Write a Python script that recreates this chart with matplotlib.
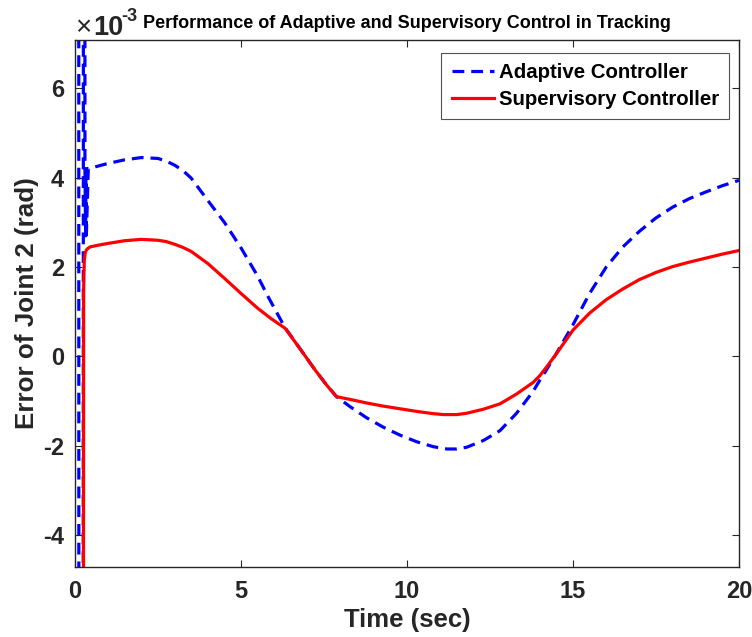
import matplotlib
matplotlib.use("Agg")
import matplotlib.pyplot as plt
from matplotlib.ticker import FuncFormatter
from matplotlib.font_manager import FontProperties
from matplotlib.transforms import offset_copy
import numpy as np

# Tracking error of joint 2 (values in units of 1e-3 rad)
time_adaptive = [0.0, 0.11, 0.12, 0.24, 0.26, 0.29, 0.30, 0.32, 0.33, 0.34, 0.40, 0.5, 0.75,
                 1.0, 1.5, 2.0, 2.5, 2.75, 3.0, 3.25, 3.5, 4.0, 4.5, 5.0, 5.5, 5.8, 6.1,
                 6.33, 6.8, 7.23, 7.6, 7.88, 8.28, 8.78, 9.28, 9.79, 10.3, 10.8, 11.2,
                 11.5, 11.8, 12.3, 12.8, 13.3, 13.8, 14.0, 14.2, 14.5, 15.0, 15.5, 16.0,
                 16.5, 17.0, 17.5, 18.0, 18.5, 19.0, 19.5, 20.0]
err_adaptive = [30.0, 30.0, -30.0, -30.0, 30.0, 30.0, 4.22, 2.70, 4.20, 2.65, 4.21, 4.22, 4.27,
                4.32, 4.40, 4.45, 4.43, 4.37, 4.28, 4.16, 3.99, 3.49, 3.00, 2.43, 1.80, 1.36,
                0.95, 0.64, 0.15, -0.30, -0.66, -0.90, -1.12, -1.37, -1.58, -1.76, -1.91,
                -2.02, -2.07, -2.07, -2.03, -1.88, -1.66, -1.27, -0.78, -0.53, -0.30, 0.07,
                0.71, 1.41, 2.00, 2.45, 2.80, 3.10, 3.34, 3.53, 3.68, 3.82, 3.94]

time_supervisory = [0.0, 0.24, 0.26, 0.28, 0.31, 0.36, 0.45, 0.7, 1.0, 1.5, 2.0, 2.5, 2.75,
                    3.0, 3.25, 3.5, 4.0, 4.5, 5.0, 5.5, 5.9, 6.33, 6.8, 7.23, 7.6, 7.88,
                    8.28, 8.78, 9.28, 9.79, 10.3, 10.8, 11.1, 11.5, 11.8, 12.3, 12.8, 13.3,
                    13.8, 14.0, 14.2, 14.5, 15.0, 15.5, 16.0, 16.5, 17.0, 17.5, 18.0, 18.5,
                    19.0, 19.5, 20.0]
err_supervisory = [-30.0, -30.0, 1.50, 2.15, 2.33, 2.40, 2.45, 2.49, 2.53, 2.59, 2.62, 2.60,
                   2.57, 2.51, 2.44, 2.35, 2.08, 1.75, 1.41, 1.08, 0.85, 0.63, 0.15, -0.30,
                   -0.66, -0.90, -0.96, -1.04, -1.11, -1.17, -1.23, -1.28, -1.30, -1.30,
                   -1.27, -1.18, -1.06, -0.84, -0.58, -0.43, -0.24, 0.06, 0.59, 0.97, 1.27,
                   1.51, 1.72, 1.88, 2.01, 2.11, 2.20, 2.29, 2.37]

title_text = "Performance of Adaptive and Supervisory Control in Tracking"
xlabel_text = "Time (sec)"
ylabel_text = "Error of Joint 2 (rad)"
legend_labels = ["Adaptive Controller", "Supervisory Controller"]
x_ticks = [0, 5, 10, 15, 20]
y_ticks = [-4e-3, -2e-3, 0.0, 2e-3, 4e-3, 6e-3]

scale = 1e-3
ta = np.array(time_adaptive)
ea = np.array(err_adaptive) * scale
ts = np.array(time_supervisory)
es = np.array(err_supervisory) * scale

plt.rcParams["font.family"] = ["Liberation Sans", "DejaVu Sans"]
plt.rcParams["lines.scale_dashes"] = False

ink = "#262626"
narrow_bold = ["Liberation Sans Narrow", "Liberation Sans", "DejaVu Sans"]

fig = plt.figure(figsize=(7.52, 6.37), dpi=100)
ax = fig.add_axes([75 / 752, 1 - 567 / 637, (739 - 75) / 752, (567 - 40) / 637])

ax.plot(ta, ea, color=(0, 0, 1), lw=2.3, ls=(0, (8.5, 5.0)), label=legend_labels[0])
ax.plot(ts, es, color=(1, 0, 0), lw=2.3, label=legend_labels[1])

ax.set_xlim(0, 20)
ax.set_ylim(-4.71e-3, 7.08e-3)
ax.set_xticks(x_ticks)
ax.set_yticks(y_ticks)
ax.xaxis.set_major_formatter(FuncFormatter(lambda v, p: "%g" % v))
ax.yaxis.set_major_formatter(FuncFormatter(lambda v, p: "%g" % round(v / scale, 6)))

tick_fp = FontProperties(family=narrow_bold, weight="bold", size=17)
for lab in ax.get_xticklabels() + ax.get_yticklabels():
    lab.set_fontproperties(tick_fp)
    lab.set_color(ink)

ax.tick_params(direction="in", length=5, width=0.8, top=True, right=True,
               pad=8, colors=ink)
ax.tick_params(axis="x", pad=9)
for s in ax.spines.values():
    s.set_linewidth(1.0)
    s.set_color(ink)

ax.set_xlabel(xlabel_text, fontsize=18.5, fontweight="bold", color=ink, labelpad=4)
ax.set_ylabel(ylabel_text, fontsize=18.7, fontweight="bold", color=ink, labelpad=3)
ax.set_title(title_text, fontsize=13, fontweight="bold", color="black", pad=9)

# exponent label above the y axis
base = ax.transAxes
ax.text(0, 1, "\u00d7", transform=offset_copy(base, fig=fig, x=0, y=5, units="dots"),
        fontsize=20, color=ink, ha="left", va="baseline")
ax.text(0, 1, "10", transform=offset_copy(base, fig=fig, x=18, y=5, units="dots"),
        fontproperties=FontProperties(family=narrow_bold, weight="bold", size=19.5),
        color=ink, ha="left", va="baseline")
ax.text(0, 1, "-3", transform=offset_copy(base, fig=fig, x=46, y=19, units="dots"),
        fontproperties=FontProperties(family=["Liberation Sans", "DejaVu Sans"],
                                      weight="bold", size=13),
        color=ink, ha="left", va="baseline")

leg = ax.legend(loc="upper right", bbox_to_anchor=(0.985, 0.975),
                prop=dict(weight="bold", size=14.7), frameon=True, fancybox=False,
                edgecolor=ink, borderpad=0.5, handlelength=2.07,
                handletextpad=0.24, labelspacing=0.38, borderaxespad=0.0)
leg.get_frame().set_linewidth(0.8)

fig.savefig("out.png", dpi=100, facecolor="white")
